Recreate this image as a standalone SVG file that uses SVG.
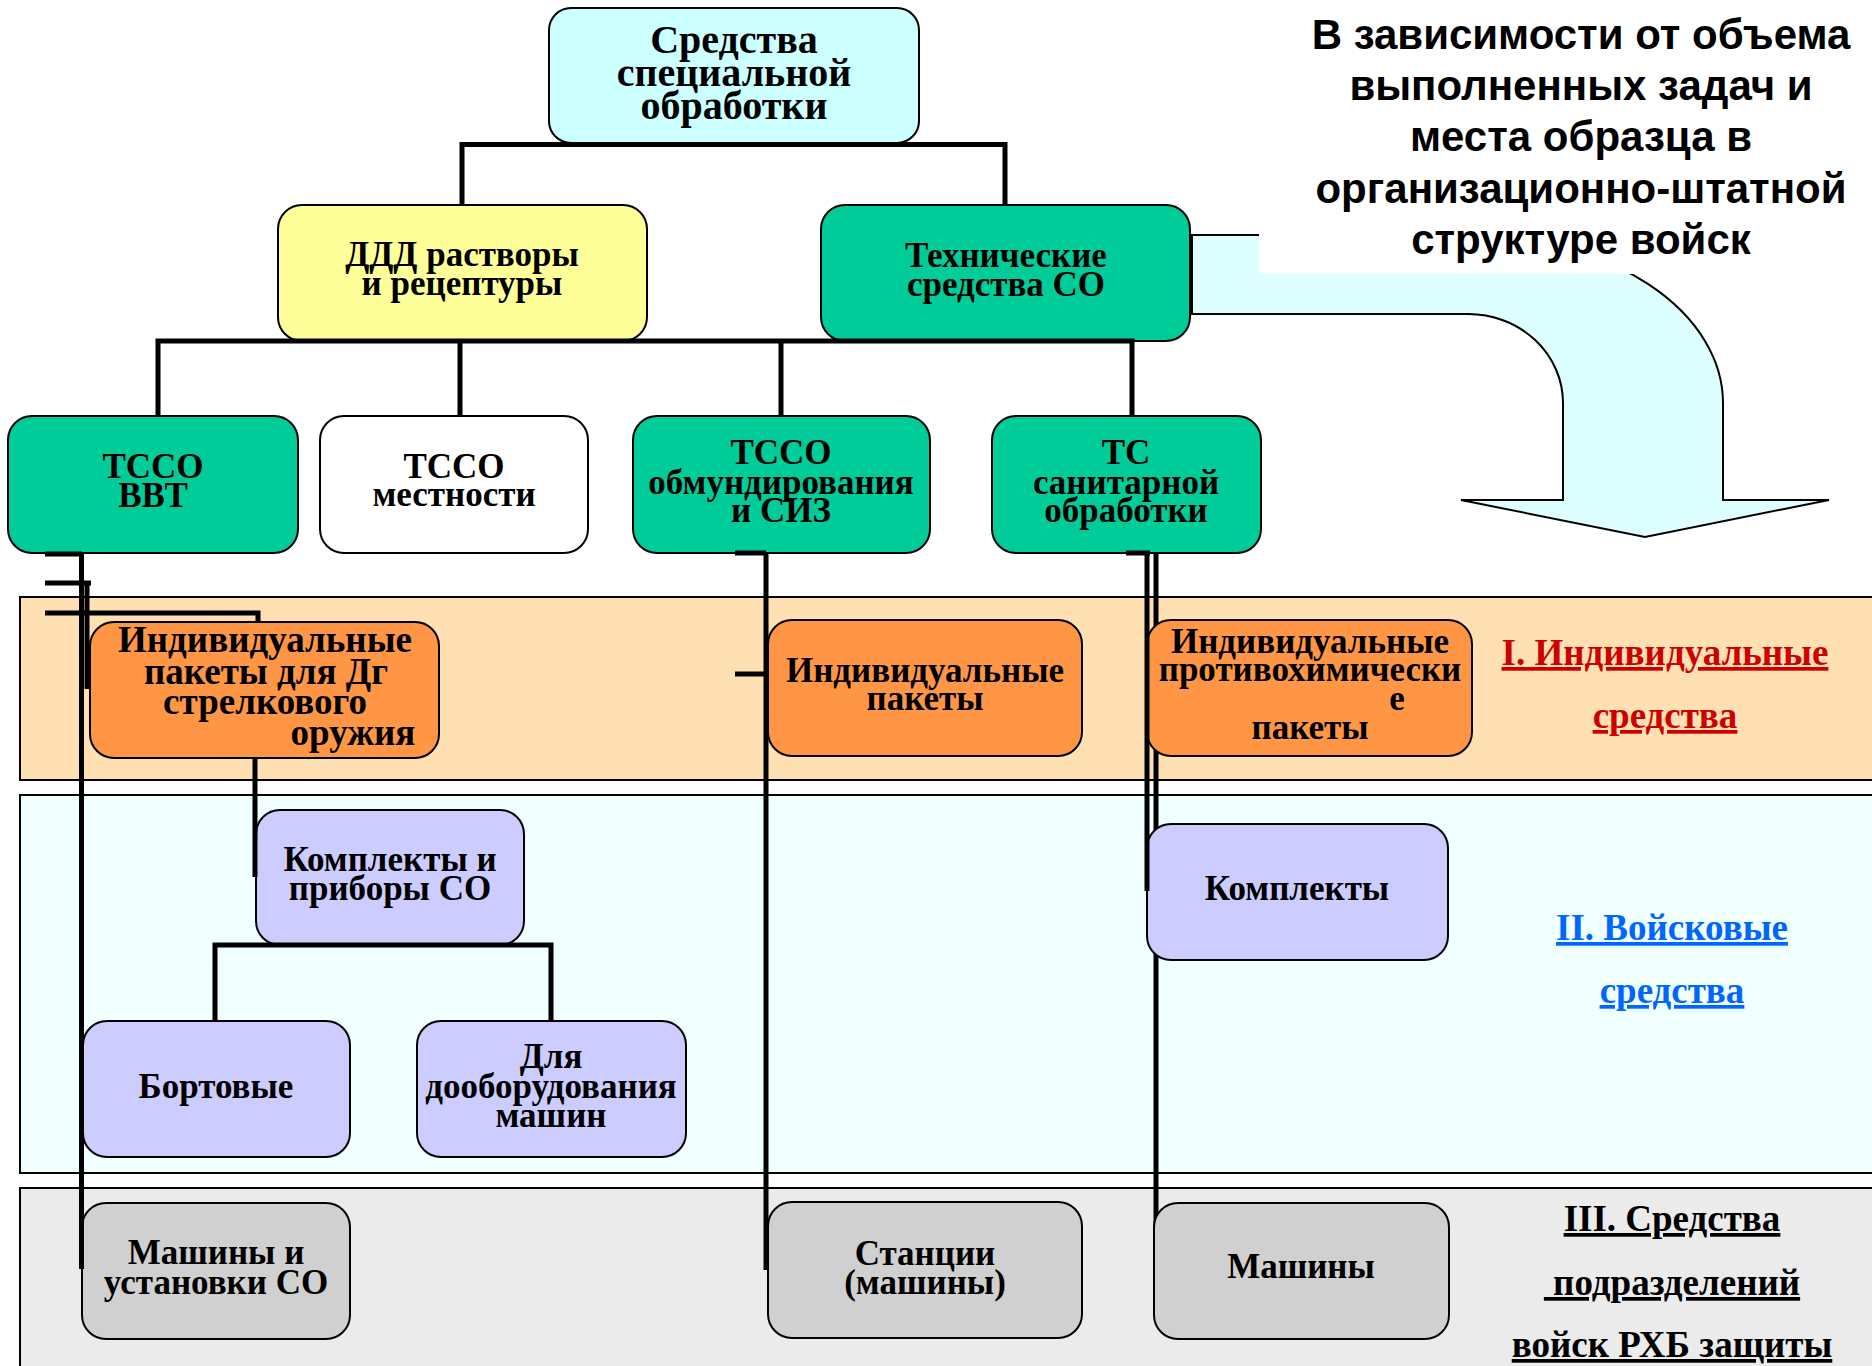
<svg xmlns="http://www.w3.org/2000/svg" width="1872" height="1366" viewBox="0 0 1872 1366">
<style>
.n{stroke:#000;stroke-width:2}
.t{font-family:"Liberation Serif","Times New Roman",serif;font-weight:bold;font-size:35px;text-anchor:middle;fill:#000}
.c{fill:none;stroke:#000;stroke-width:5}
.lbl{font-family:"Liberation Serif","Times New Roman",serif;font-weight:bold;font-size:37px;text-anchor:middle;text-decoration:underline}
.h{font-family:"Liberation Sans",Arial,sans-serif;font-weight:bold;font-size:42px;text-anchor:middle;fill:#000}
</style>
<g id="bands">
<rect x="20" y="597" width="1870" height="183" fill="#FFE0B2" stroke="#000" stroke-width="2"/>
<rect x="20" y="795" width="1870" height="378" fill="#F0FFFF" stroke="#000" stroke-width="2"/>
<rect x="20" y="1188" width="1870" height="200" fill="#EBEBEB" stroke="#000" stroke-width="2"/>
</g>
<g id="arrow">
<path d="M1192,235 H1468 A255,168 0 0 1 1723,403 V500 H1829 L1645,537 L1461,500 H1563 V403 A95,89 0 0 0 1468,314 H1192 Z" fill="#DDFFFF" stroke="#000" stroke-width="2"/>
<rect x="1259" y="0" width="613" height="274" fill="#fff"/>
</g>
<g id="heading">
<text class="h" x="1581" y="49">В зависимости от объема</text>
<text class="h" x="1581" y="100">выполненных задач и</text>
<text class="h" x="1581" y="151">места образца в</text>
<text class="h" x="1581" y="203">организационно-штатной</text>
<text class="h" x="1581" y="254">структуре войск</text>
</g>
<g id="connectors-back">
<path class="c" d="M1156,553 V1270" stroke-width="4"/>
</g>
<g id="root"><rect class="n" x="549" y="8" width="370" height="135" rx="22" fill="#CCFFFF"/>
<text class="t" style="font-size:40px" x="734" y="53">Средства</text>
<text class="t" style="font-size:40px" x="734" y="86">специальной</text>
<text class="t" style="font-size:40px" x="734" y="119">обработки</text></g>
<g id="ddd"><rect class="n" x="278" y="205" width="369" height="136" rx="24" fill="#FFFF99"/>
<text class="t" x="462" y="266">ДДД растворы</text>
<text class="t" x="462" y="295">и рецептуры</text></g>
<g id="tech"><rect class="n" x="821" y="205" width="369" height="136" rx="24" fill="#00CC99"/>
<text class="t" x="1006" y="267">Технические</text>
<text class="t" x="1006" y="296">средства СО</text></g>
<g id="tsso-vvt"><rect class="n" x="8" y="416" width="290" height="137" rx="24" fill="#00CC99"/>
<text class="t" x="153" y="478">ТССО</text>
<text class="t" x="153" y="507">ВВТ</text></g>
<g id="tsso-mest"><rect class="n" x="320" y="416" width="268" height="137" rx="24" fill="#FFFFFF"/>
<text class="t" x="454" y="478">ТССО</text>
<text class="t" x="454" y="506">местности</text></g>
<g id="tsso-siz"><rect class="n" x="633" y="416" width="297" height="137" rx="24" fill="#00CC99"/>
<text class="t" x="781" y="464">ТССО</text>
<text class="t" x="781" y="494">обмундирования</text>
<text class="t" x="781" y="522">и СИЗ</text></g>
<g id="ts-san"><rect class="n" x="992" y="416" width="269" height="137" rx="24" fill="#00CC99"/>
<text class="t" x="1126" y="464">ТС</text>
<text class="t" x="1126" y="494">санитарной</text>
<text class="t" x="1126" y="522">обработки</text></g>
<g id="ip-dg"><rect class="n" x="90" y="622" width="349" height="136" rx="24" fill="#FF9645"/>
<text class="t" style="font-size:37px" x="265" y="652">Индивидуальные</text>
<text class="t" style="font-size:37px" x="266" y="684">пакеты для Дг</text>
<text class="t" style="font-size:37px" x="265" y="714">стрелкового</text>
<text class="t" style="font-size:37px" x="353" y="745">оружия</text></g>
<g id="ip"><rect class="n" x="768" y="620" width="314" height="136" rx="24" fill="#FF9645"/>
<text class="t" x="925" y="682">Индивидуальные</text>
<text class="t" x="925" y="710">пакеты</text></g>
<g id="ipp"><rect class="n" x="1147" y="620" width="325" height="136" rx="24" fill="#FF9645"/>
<text class="t" x="1310" y="653">Индивидуальные</text>
<text class="t" x="1310" y="681">противохимически</text>
<text class="t" x="1397" y="710">е</text>
<text class="t" x="1310" y="739">пакеты</text></g>
<g id="kp-so"><rect class="n" x="256" y="810" width="268" height="135" rx="24" fill="#CCCCFF"/>
<text class="t" x="390" y="871">Комплекты и</text>
<text class="t" x="390" y="900">приборы СО</text></g>
<g id="bort"><rect class="n" x="83" y="1021" width="267" height="136" rx="24" fill="#CCCCFF"/>
<text class="t" x="216" y="1098">Бортовые</text></g>
<g id="doob"><rect class="n" x="417" y="1021" width="269" height="136" rx="24" fill="#CCCCFF"/>
<text class="t" x="551" y="1068">Для</text>
<text class="t" x="551" y="1098">дооборудования</text>
<text class="t" x="551" y="1127">машин</text></g>
<g id="kompl"><rect class="n" x="1147" y="824" width="301" height="136" rx="24" fill="#CCCCFF"/>
<text class="t" x="1297" y="900">Комплекты</text></g>
<g id="mash-ust"><rect class="n" x="82" y="1203" width="268" height="136" rx="24" fill="#D0D0D0"/>
<text class="t" x="216" y="1264">Машины и</text>
<text class="t" x="216" y="1294">установки СО</text></g>
<g id="stancii"><rect class="n" x="768" y="1202" width="314" height="136" rx="24" fill="#D0D0D0"/>
<text class="t" x="925" y="1265">Станции</text>
<text class="t" x="925" y="1294">(машины)</text></g>
<g id="mashiny"><rect class="n" x="1154" y="1203" width="295" height="136" rx="24" fill="#D0D0D0"/>
<text class="t" x="1301" y="1278">Машины</text></g>
<g id="connectors">
<path class="c" d="M462,205 V144.5 H1005 V205"/>
<path class="c" d="M158,416 V341 H1132 V416"/>
<path class="c" d="M460,341 V416"/>
<path class="c" d="M781,341 V416"/>
<path class="c" d="M81.5,553 V1269"/>
<path class="c" d="M45,554 H82" stroke-width="4"/>
<path class="c" d="M45,583 H91"/>
<path class="c" d="M87,583 V689"/>
<path class="c" d="M45,613 H258 V622"/>
<path class="c" d="M255,758 V877"/>
<path class="c" d="M215,1021 V945 H551 V1021"/>
<path class="c" d="M766,553 V1270"/>
<path class="c" d="M735,553 H766" stroke-width="3"/>
<path class="c" d="M735,674 H768"/>
<path class="c" d="M1147,553 V891"/>
<path class="c" d="M1126,553 H1150" stroke-width="3"/>
</g>
<g id="band-labels">
<text class="lbl" fill="#CC0000" x="1665" y="665">I. Индивидуальные</text>
<text class="lbl" fill="#CC0000" x="1665" y="728">средства</text>
<text class="lbl" fill="#0066FF" x="1672" y="940">II. Войсковые</text>
<text class="lbl" fill="#0066FF" x="1672" y="1003">средства</text>
<text class="lbl" fill="#000" x="1672" y="1231">III. Средства</text>
<text class="lbl" fill="#000" x="1672" y="1295">&#160;подразделений</text>
<text class="lbl" fill="#000" x="1672" y="1357">войск РХБ защиты</text>
</g>
</svg>
